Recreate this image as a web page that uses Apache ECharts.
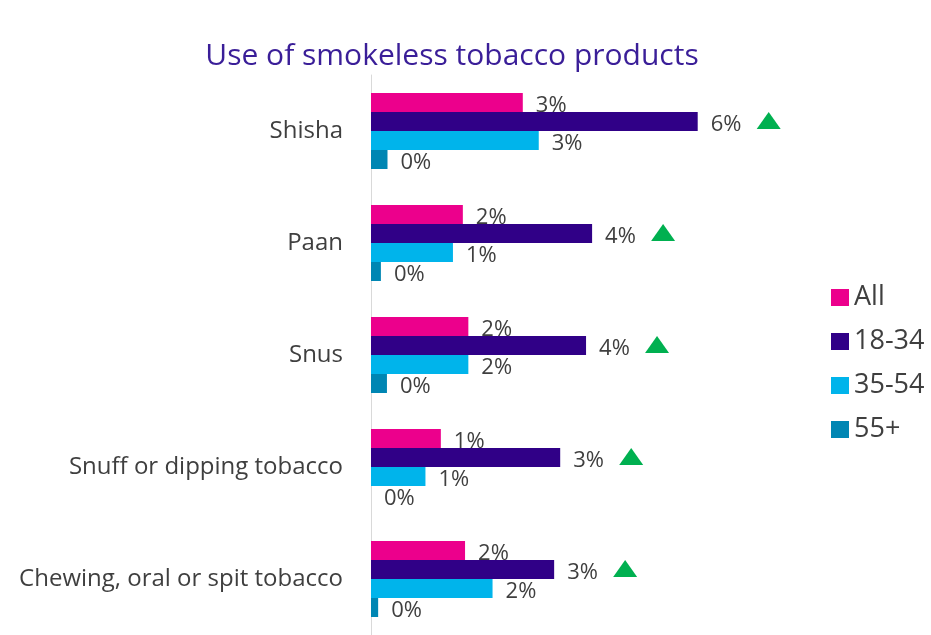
<!DOCTYPE html>
<html>
<head>
<meta charset="utf-8">
<script src="https://cdn.jsdelivr.net/npm/echarts@6/dist/echarts.min.js"></script>
<style>
  html, body { margin: 0; padding: 0; background: #ffffff; }
  #chart { width: 931px; height: 635px; }
</style>
</head>
<body>
<div id="chart"></div>
<script>
// Products, top to bottom
const categories = ['Shisha', 'Paan', 'Snus', 'Snuff or dipping tobacco', 'Chewing, oral or spit tobacco'];

// Share using each product (%), by age group
const valuesAll = [2.76, 1.67, 1.77, 1.27, 1.71];
const values1834 = [5.94, 4.02, 3.91, 3.44, 3.33];
const values3554 = [3.05, 1.49, 1.77, 0.99, 2.21];
const values55 = [0.30, 0.18, 0.29, 0, 0.13];

// 18-34 significantly higher than the total
const higher1834 = [true, true, true, true, true];

const seriesNames = ['All', '18-34', '35-54', '55+'];
const seriesColors = ['#EC008C', '#300087', '#00B4EB', '#0086B3'];

const FONT = '"Open Sans", sans-serif';
const TEXT = '#3F3F3F';

const chart = echarts.init(document.getElementById('chart'), null, { renderer: 'canvas' });

const labelStyle = {
  show: true,
  position: 'right',
  distance: 13,
  offset: [0, 3],
  fontFamily: FONT,
  fontSize: 22,
  color: TEXT,
  formatter: p => Math.round(p.value) + '%'
};

function barSeries(name, data, color, extra) {
  return Object.assign({
    name: name,
    type: 'bar',
    data: data,
    barWidth: 19,
    barGap: '0%',
    itemStyle: { color: color },
    label: labelStyle,
    emphasis: { disabled: true }
  }, extra || {});
}

const arrows = categories
  .map((c, i) => higher1834[i] ? { coord: [values1834[i], c] } : null)
  .filter(d => d);

chart.setOption({
  animation: false,
  title: {
    text: 'Use of smokeless tobacco products',
    left: 447,
    textAlign: 'center',
    top: 36,
    textStyle: { fontFamily: FONT, fontSize: 30, fontWeight: 'normal', color: '#3A1E98' }
  },
  legend: {
    orient: 'vertical',
    left: 826,
    top: 279,
    itemWidth: 18,
    itemHeight: 17,
    itemGap: 17,
    icon: 'rect',
    textStyle: { fontFamily: FONT, fontSize: 27, color: TEXT, padding: [0, 0, 0, 0] },
    data: seriesNames
  },
  grid: { left: 371, right: 10, top: 75, bottom: -5, containLabel: false },
  xAxis: { type: 'value', min: 0, max: 10, show: false },
  yAxis: {
    type: 'category',
    data: categories,
    inverse: true,
    axisLine: { show: true, lineStyle: { color: '#D9D9D9', width: 1 } },
    axisTick: { show: false },
    axisLabel: { margin: 28, fontFamily: FONT, fontSize: 24, color: TEXT }
  },
  series: [
    barSeries(seriesNames[0], valuesAll, seriesColors[0]),
    barSeries(seriesNames[1], values1834, seriesColors[1], {
      markPoint: {
        symbol: 'triangle',
        symbolSize: [24, 17],
        symbolOffset: [71, -1],
        itemStyle: { color: '#00B050' },
        label: { show: false },
        data: arrows
      }
    }),
    barSeries(seriesNames[2], values3554, seriesColors[2]),
    barSeries(seriesNames[3], values55, seriesColors[3])
  ]
});
</script>
</body>
</html>
